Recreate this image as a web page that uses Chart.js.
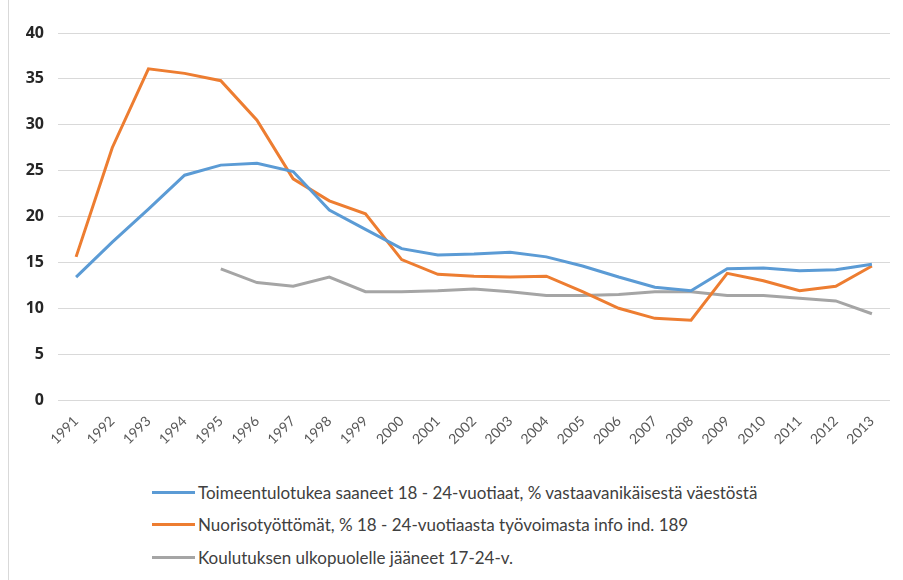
<!DOCTYPE html>
<html>
<head>
<meta charset="utf-8">
<script src="https://cdn.jsdelivr.net/npm/chart.js@4"></script>
<style>
  html, body { margin: 0; padding: 0; background: #fff; }
  #wrap { position: relative; width: 903px; height: 580px; overflow: hidden; }
  #wrap:before { content: ''; position: absolute; left: 8px; top: 0; bottom: 0; border-left: 1px solid #d9d9d9; }
  #chartBox { position: absolute; left: 0; top: 0; width: 903px; height: 455px; }
  #legend { position: absolute; left: 152px; top: 476px; font-family: Lato, "Liberation Sans", sans-serif; font-size: 17px; color: #404040; }
  #legend .item { height: 32.5px; display: flex; align-items: center; white-space: nowrap; }
  #legend .swatch { width: 43px; height: 3px; margin-right: 3px; }
</style>
</head>
<body>
<div id="wrap">
  <div id="chartBox"><canvas id="lineChart"></canvas></div>
  <div id="legend"></div>
</div>
<script>
// Vuodet ja sarjat
const years = ['1991','1992','1993','1994','1995','1996','1997','1998','1999','2000','2001','2002',
  '2003','2004','2005','2006','2007','2008','2009','2010','2011','2012','2013'];

const toimeentulotuki = [13.4, 17.2, 20.8, 24.5, 25.6, 25.8, 24.9, 20.7, 18.6, 16.5, 15.8, 15.9,
  16.1, 15.6, 14.6, 13.4, 12.3, 11.9, 14.3, 14.4, 14.1, 14.2, 14.8];

const nuorisotyottomat = [15.6, 27.5, 36.1, 35.6, 34.8, 30.5, 24.1, 21.7, 20.3, 15.3, 13.7, 13.5,
  13.4, 13.5, 11.8, 10.0, 8.9, 8.7, 13.8, 13.0, 11.9, 12.4, 14.6];

const koulutuksenUlkopuolella = [null, null, null, null, 14.3, 12.8, 12.4, 13.4, 11.8, 11.8, 11.9, 12.1,
  11.8, 11.4, 11.4, 11.5, 11.8, 11.8, 11.4, 11.4, 11.1, 10.8, 9.4];

const seriesNames = [
  'Toimeentulotukea saaneet 18 - 24-vuotiaat, % vastaavanikäisestä väestöstä',
  'Nuorisotyöttömät, % 18 - 24-vuotiaasta työvoimasta info ind. 189',
  'Koulutuksen ulkopuolelle jääneet 17-24-v.'
];
const seriesColors = ['#5B9BD5', '#ED7D31', '#A5A5A5'];

function initChart() {
  const ctx = document.getElementById('lineChart');
  if (!ctx) return;

  const values = [toimeentulotuki, nuorisotyottomat, koulutuksenUlkopuolella];
  const datasets = values.map((v, i) => ({
    label: seriesNames[i],
    data: v,
    borderColor: seriesColors[i],
    backgroundColor: seriesColors[i],
    borderWidth: 3,
    pointRadius: 0,
    tension: 0,
    spanGaps: false
  }));

  new Chart(ctx, {
    type: 'line',
    data: { labels: years, datasets: datasets },
    options: {
      responsive: true,
      maintainAspectRatio: false,
      animation: false,
      layout: { padding: { top: 33, right: 13, left: 0, bottom: 0 } },
      plugins: {
        legend: { display: false },
        tooltip: { enabled: false }
      },
      scales: {
        x: {
          offset: true,
          grid: { display: false },
          border: { display: false },
          ticks: {
            color: '#595959',
            font: { family: 'Lato, "Liberation Sans", sans-serif', size: 14 },
            minRotation: 45,
            maxRotation: 45,
            autoSkip: false,
            padding: 5
          },
          afterFit: scale => { scale.height = 55; }
        },
        y: {
          min: 0,
          max: 40,
          grid: { color: '#d9d9d9', lineWidth: 1, drawTicks: false },
          border: { display: false },
          ticks: {
            stepSize: 5,
            color: '#262626',
            padding: 14,
            font: { family: '"Open Sans", "Liberation Sans", sans-serif', size: 16, weight: 'bold' }
          },
          afterFit: scale => { scale.width = 58; }
        }
      }
    }
  });

  // Legenda pystysuunnassa kuten alkuperäisessä
  const legend = document.getElementById('legend');
  seriesNames.forEach((name, i) => {
    const row = document.createElement('div');
    row.className = 'item';
    row.innerHTML = '<span class="swatch" style="background:' + seriesColors[i] + '"></span><span>' + name + '</span>';
    legend.appendChild(row);
  });
}

document.addEventListener('DOMContentLoaded', initChart);
</script>
</body>
</html>
